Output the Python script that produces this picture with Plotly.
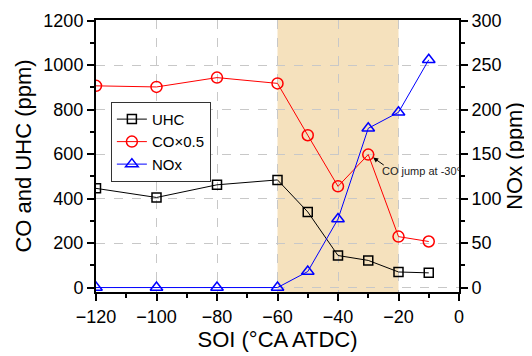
import plotly.graph_objects as go

soi = [-120, -100, -80, -60, -50, -40, -30, -20, -10]
uhc = [446, 405, 462, 484, 340, 144, 122, 70, 66]
co_half = [907, 902, 944, 918, 685, 455, 598, 229, 207]
nox = [0, 0, 0, 0, 18, 77, 179, 197, 256]

FONT = "Liberation Sans, Arial, sans-serif"

fig = go.Figure()
fig.add_trace(go.Scatter(x=soi, y=uhc, name="UHC", mode="lines+markers",
                         line=dict(color="black", width=1),
                         marker=dict(symbol="square-open", size=9, color="black", line=dict(width=1.5))))
fig.add_trace(go.Scatter(x=soi, y=co_half, name="CO×0.5", mode="lines+markers",
                         line=dict(color="#ff0000", width=1),
                         marker=dict(symbol="circle-open", size=11, color="#ff0000", line=dict(width=1.5))))
fig.add_trace(go.Scatter(x=soi, y=nox, name="NOx", mode="lines+markers", yaxis="y2",
                         line=dict(color="#0000ff", width=1),
                         marker=dict(symbol="triangle-up-open", size=11, color="#0000ff", line=dict(width=1.5))))

fig.add_shape(type="rect", xref="x", yref="paper", x0=-60, x1=-20, y0=0, y1=1,
              fillcolor="#F5E1BD", line=dict(width=0), layer="below")

fig.add_annotation(x=-30, y=600, xref="x", yref="y", text="", showarrow=True,
                   ax=17, ay=12, axref="pixel", ayref="pixel", arrowhead=2, arrowsize=1,
                   arrowwidth=1, arrowcolor="black", standoff=6)
fig.add_annotation(x=-26.2, y=524, xref="x", yref="y", text="CO jump at -30°", showarrow=False,
                   xanchor="left", yanchor="middle", font=dict(size=11, color="#222", family=FONT))

axis_common = dict(showline=True, linecolor="black", linewidth=2, ticks="outside",
                   tickwidth=1.5, ticklen=7, tickcolor="black", automargin=False,
                   tickfont=dict(size=18, color="black", family=FONT),
                   title_font=dict(size=22, color="black", family=FONT),
                   zeroline=False)

fig.update_layout(
    width=524, height=348,
    margin=dict(l=88, r=73, t=12, b=64),
    paper_bgcolor="white", plot_bgcolor="white",
    font=dict(family=FONT, color="black"),
    showlegend=True,
    legend=dict(x=0.041, y=0.699, xanchor="left", yanchor="top",
                bgcolor="white", bordercolor="#333", borderwidth=1,
                font=dict(size=15, family=FONT, color="black"),
                itemwidth=30, tracegroupgap=0),
    xaxis=dict(range=[-120, 0], tickvals=[-120, -100, -80, -60, -40, -20, 0],
               minor=dict(tickvals=[-110, -90, -70, -50, -30, -10], ticks="outside", ticklen=4, tickcolor="black", tickwidth=1.5),
               title=dict(text="SOI (°CA ATDC)", standoff=6),
               showgrid=True, gridcolor="#c8c8c8", griddash="dash", gridwidth=1,
               mirror=True, **axis_common),
    yaxis=dict(range=[-20, 1203], tickvals=[0, 200, 400, 600, 800, 1000, 1200],
               minor=dict(tickvals=[100, 300, 500, 700, 900, 1100], ticks="outside", ticklen=4, tickcolor="black", tickwidth=1.5),
               title=dict(text="CO and UHC (ppm)", standoff=6),
               showgrid=True, gridcolor="#c8c8c8", griddash="dash", gridwidth=1,
               **axis_common),
    yaxis2=dict(range=[-5, 300.75], tickvals=[0, 50, 100, 150, 200, 250, 300],
                minor=dict(tickvals=[25, 75, 125, 175, 225, 275], ticks="outside", ticklen=4, tickcolor="black", tickwidth=1.5),
                overlaying="y", side="right", showgrid=False,
                title=dict(text="NOx (ppm)", standoff=6),
                **axis_common),
)

fig.write_html("out.html")
